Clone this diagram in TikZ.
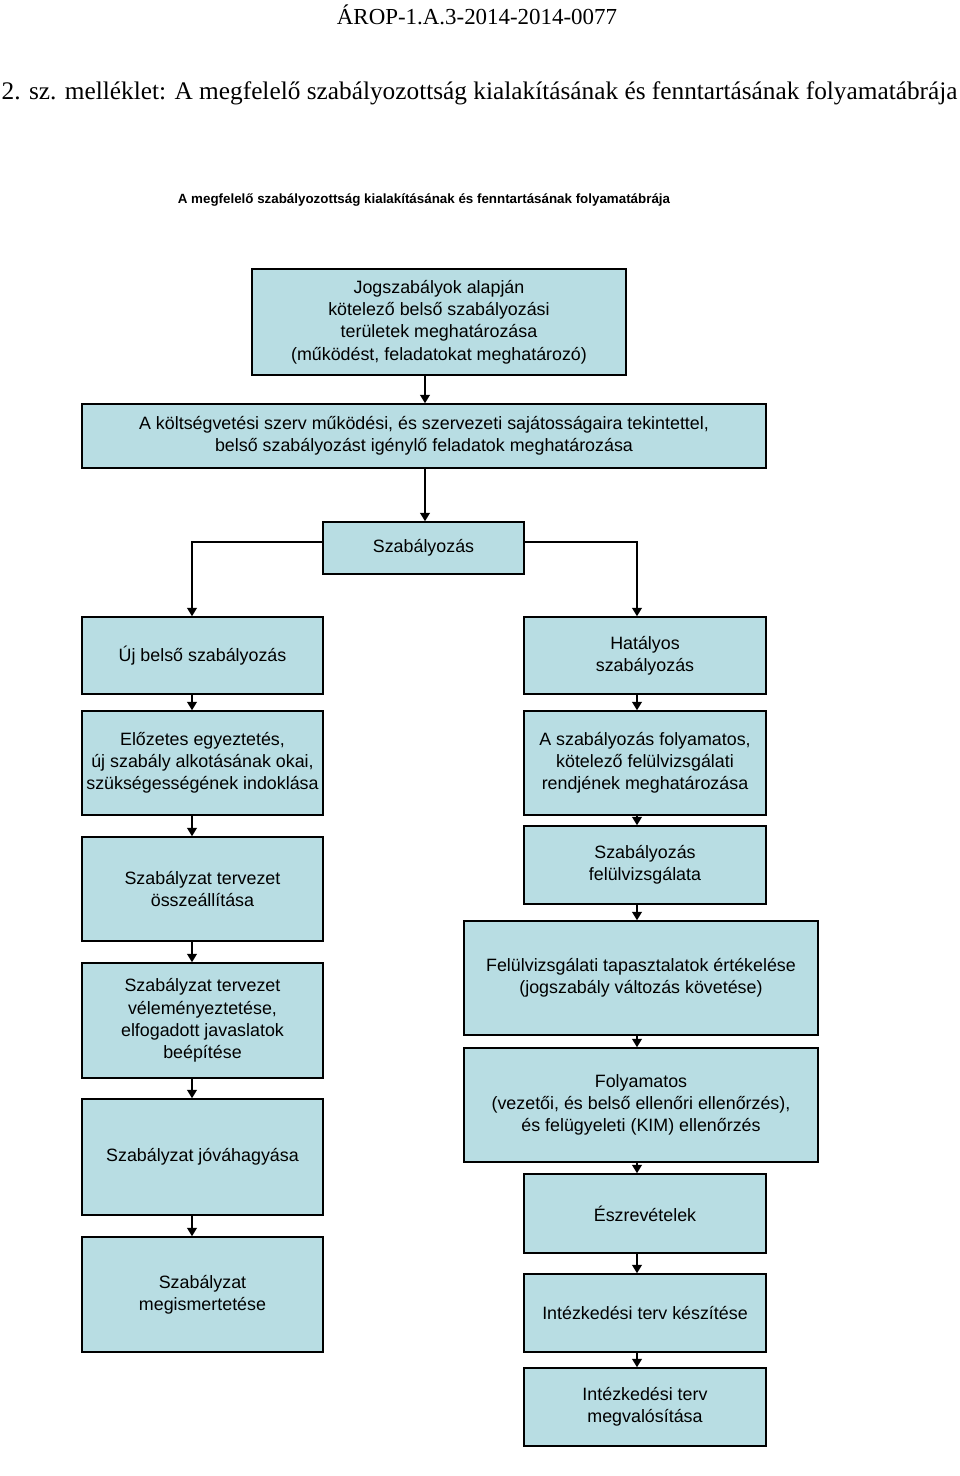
\documentclass[tikz,border=0pt]{standalone}
\usepackage{fontspec}
\setmainfont{Liberation Serif}
\setsansfont{Liberation Sans}
\usetikzlibrary{arrows.meta}
\definecolor{dobozkek}{RGB}{184,221,227}

\begin{document}
\begin{tikzpicture}[x=0.025cm, y=-0.025cm,
	doboz/.style={draw=black, line width=1.1pt, fill=dobozkek, align=center, inner sep=0pt, font=\sffamily\fontsize{12.7}{15.8}\selectfont},
	nyil/.style={-{Triangle[length=6pt,width=7pt]}, line width=1.1pt}]

	\useasboundingbox (0,0) rectangle (960,1476) ;

	\draw (477,15) node[font=\fontsize{16.3}{18}\selectfont] (azon) {ÁROP-1.A.3-2014-2014-0077} ;
	\draw (0,93) node[anchor=west, inner sep=1pt, font=\fontsize{18}{20}\selectfont] (cim) {2. sz. melléklet: A megfelelő szabályozottság kialakításának és fenntartásának folyamatábrája} ;
	\draw (424,200) node[font=\sffamily\bfseries\fontsize{9.5}{11}\selectfont] (fejlec) {A megfelelő szabályozottság kialakításának és fenntartásának folyamatábrája} ;

	\draw (439,322) node[doboz, minimum width=9.35cm, minimum height=2.65cm] (jog) {Jogszabályok alapján\\kötelező belső szabályozási\\területek meghatározása\\(működést, feladatokat meghatározó)} ;
	\draw (424,436) node[doboz, minimum width=17.1cm, minimum height=1.6cm] (kolt) {A költségvetési szerv működési, és szervezeti sajátosságaira tekintettel,\\belső szabályozást igénylő feladatok meghatározása} ;
	\draw (423.5,548) node[doboz, minimum width=5.025cm, minimum height=1.3cm] (szab) {Szabályozás} ;

	% bal oldal
	\draw (202.5,655.5) node[doboz, minimum width=6.025cm, minimum height=1.925cm] (uj) {Új belső szabályozás} ;
	\draw (202.5,763) node[doboz, minimum width=6.025cm, minimum height=2.6cm] (elo) {Előzetes egyeztetés,\\új szabály alkotásának okai,\\szükségességének indoklása} ;
	\draw (202.5,889) node[doboz, minimum width=6.025cm, minimum height=2.6cm] (oss) {Szabályzat tervezet\\összeállítása} ;
	\draw (202.5,1020.5) node[doboz, minimum width=6.025cm, minimum height=2.875cm] (vel) {Szabályzat tervezet\\véleményeztetése,\\elfogadott javaslatok\\beépítése} ;
	\draw (202.5,1157) node[doboz, minimum width=6.025cm, minimum height=2.9cm] (jov) {Szabályzat jóváhagyása} ;
	\draw (202.5,1294.5) node[doboz, minimum width=6.025cm, minimum height=2.875cm] (ism) {Szabályzat\\megismertetése} ;

	% jobb oldal
	\draw (645,655.5) node[doboz, minimum width=6.05cm, minimum height=1.925cm] (hat) {Hatályos\\szabályozás} ;
	\draw (645,763) node[doboz, minimum width=6.05cm, minimum height=2.6cm] (fol) {A szabályozás folyamatos,\\kötelező felülvizsgálati\\rendjének meghatározása} ;
	\draw (645,865) node[doboz, minimum width=6.05cm, minimum height=1.95cm] (fel) {Szabályozás\\felülvizsgálata} ;
	\draw (641,978) node[doboz, minimum width=8.85cm, minimum height=2.85cm] (ert) {Felülvizsgálati tapasztalatok értékelése\\(jogszabály változás követése)} ;
	\draw (641,1105) node[doboz, minimum width=8.85cm, minimum height=2.85cm] (ell) {Folyamatos\\(vezetői, és belső ellenőri ellenőrzés),\\és felügyeleti (KIM) ellenőrzés} ;
	\draw (645,1213.5) node[doboz, minimum width=6.05cm, minimum height=1.975cm] (esz) {Észrevételek} ;
	\draw (645,1313) node[doboz, minimum width=6.05cm, minimum height=1.95cm] (ikt) {Intézkedési terv készítése} ;
	\draw (645,1407) node[doboz, minimum width=6.05cm, minimum height=1.95cm] (ikm) {Intézkedési terv\\megvalósítása} ;

	\coordinate (kozep) at (425,0) ;
	\coordinate (bal) at (192,0) ;
	\coordinate (jobb) at (637,0) ;

	\draw [nyil] (jog.south -| kozep) -- (kolt.north -| kozep) ;
	\draw [nyil] (kolt.south -| kozep) -- (szab.north -| kozep) ;
	\draw [nyil] ([yshift=0.15cm]szab.west) -| (uj.north -| bal) ;
	\draw [nyil] ([yshift=0.15cm]szab.east) -| (hat.north -| jobb) ;

	\draw [nyil] (uj.south -| bal) -- (elo.north -| bal) ;
	\draw [nyil] (elo.south -| bal) -- (oss.north -| bal) ;
	\draw [nyil] (oss.south -| bal) -- (vel.north -| bal) ;
	\draw [nyil] (vel.south -| bal) -- (jov.north -| bal) ;
	\draw [nyil] (jov.south -| bal) -- (ism.north -| bal) ;

	\draw [nyil] (hat.south -| jobb) -- (fol.north -| jobb) ;
	\draw [nyil] (fol.south -| jobb) -- (fel.north -| jobb) ;
	\draw [nyil] (fel.south -| jobb) -- (ert.north -| jobb) ;
	\draw [nyil] (ert.south -| jobb) -- (ell.north -| jobb) ;
	\draw [nyil] (ell.south -| jobb) -- (esz.north -| jobb) ;
	\draw [nyil] (esz.south -| jobb) -- (ikt.north -| jobb) ;
	\draw [nyil] (ikt.south -| jobb) -- (ikm.north -| jobb) ;

\end{tikzpicture}
\end{document}
